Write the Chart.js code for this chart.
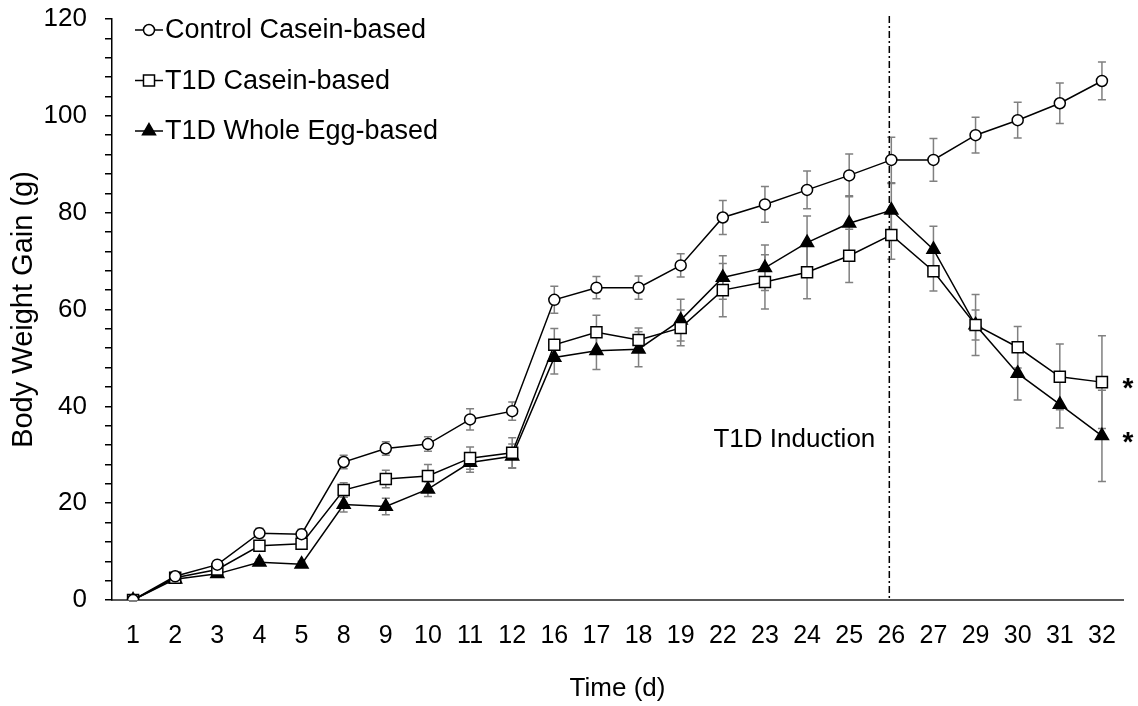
<!DOCTYPE html>
<html>
<head>
<meta charset="utf-8">
<script src="https://cdn.jsdelivr.net/npm/chart.js@4.4.1/dist/chart.umd.min.js"></script>
<style>
  html, body { margin: 0; padding: 0; background: #fff; }
  canvas { display: block; }
</style>
</head>
<body>
<canvas id="weightChart" width="1138" height="706"></canvas>
<script>
// Body weight gain per day
const days = ['1', '2', '3', '4', '5', '8', '9', '10', '11', '12', '16', '17', '18', '19', '22', '23', '24', '25', '26', '27', '29', '30', '31', '32'];

const controlCasein = [0, 4.9, 7.3, 13.8, 13.6, 28.5, 31.3, 32.2, 37.3, 39.0, 62.0, 64.5, 64.5, 69.1, 79.0, 81.7, 84.7, 87.7, 90.9, 90.9, 96.0, 99.1, 102.6, 107.2];
const controlCaseinErr = [0.2, 0.6, 0.7, 1.0, 1.0, 1.4, 1.4, 1.5, 2.2, 1.9, 2.8, 2.3, 2.4, 2.4, 3.5, 3.7, 3.9, 4.4, 4.7, 4.4, 3.7, 3.7, 4.2, 3.9];

const t1dCasein = [0, 4.6, 6.3, 11.2, 11.6, 22.7, 25.0, 25.6, 29.3, 30.4, 52.7, 55.3, 53.7, 56.2, 64.0, 65.7, 67.7, 71.1, 75.4, 67.9, 56.8, 52.2, 46.1, 45.0];
const t1dCaseinErr = [0.2, 0.6, 0.8, 1.0, 1.0, 1.5, 1.8, 2.4, 2.3, 3.1, 3.4, 3.5, 2.5, 3.7, 5.5, 5.6, 5.5, 5.5, 5.0, 4.1, 3.1, 4.3, 6.8, 9.6];

const t1dEgg = [0, 4.3, 5.4, 7.8, 7.4, 19.7, 19.3, 22.9, 28.4, 29.7, 50.1, 51.5, 51.8, 57.8, 66.6, 68.6, 73.8, 77.8, 80.5, 72.4, 56.8, 46.8, 40.4, 33.9];
const t1dEggErr = [0.2, 0.5, 0.6, 0.6, 0.6, 1.5, 1.7, 1.5, 2.0, 2.5, 3.4, 3.9, 3.6, 4.3, 4.5, 4.7, 5.5, 5.7, 5.5, 4.8, 6.3, 5.5, 4.9, 9.4];

const errors = [controlCaseinErr, t1dCaseinErr, t1dEggErr];
const inductionDay = '26';
const starredSeries = [1, 2];

const FONT = "'Liberation Sans', Arial, sans-serif";

// error bars, induction line, legend, labels
const extras = {
    id: 'extras',
    beforeDatasetsDraw(chart) {
        const ctx = chart.ctx;
        const y = chart.scales.y;
        const x = chart.scales.x;
        ctx.save();
        ctx.strokeStyle = '#808080';
        ctx.lineWidth = 1.5;
        chart.data.datasets.forEach((ds, i) => {
            const meta = chart.getDatasetMeta(i);
            meta.data.forEach((pt, j) => {
                const v = ds.data[j];
                const e = errors[i][j];
                const top = y.getPixelForValue(v + e);
                const bot = y.getPixelForValue(v - e);
                ctx.beginPath();
                ctx.moveTo(pt.x, top); ctx.lineTo(pt.x, bot);
                ctx.moveTo(pt.x - 4, top); ctx.lineTo(pt.x + 4, top);
                ctx.moveTo(pt.x - 4, bot); ctx.lineTo(pt.x + 4, bot);
                ctx.stroke();
            });
        });
        // dash-dot line at induction
        const lx = x.getPixelForValue(days.indexOf(inductionDay)) - 2;
        ctx.strokeStyle = '#000';
        ctx.lineWidth = 1.5;
        ctx.setLineDash([7, 3, 2, 3]);
        ctx.beginPath();
        ctx.moveTo(lx, chart.chartArea.top - 3);
        ctx.lineTo(lx, chart.chartArea.bottom);
        ctx.stroke();
        ctx.restore();
    },
    afterDraw(chart) {
        const ctx = chart.ctx;
        const x = chart.scales.x;
        const y = chart.scales.y;
        ctx.save();
        ctx.fillStyle = '#000';
        ctx.font = '26px ' + FONT;
        ctx.textAlign = 'right';
        ctx.textBaseline = 'middle';
        ctx.fillText('T1D Induction', x.getPixelForValue(days.indexOf(inductionDay)) - 16, y.getPixelForValue(33));

        // significance stars
        const last = days.length - 1;
        ctx.font = 'bold 28px ' + FONT;
        ctx.textAlign = 'center';
        ctx.textBaseline = 'alphabetic';
        starredSeries.forEach(i => {
            const pt = chart.getDatasetMeta(i).data[last];
            ctx.fillText('*', pt.x + 26, pt.y + 15);
        });

        // legend
        ctx.font = '27px ' + FONT;
        ctx.textAlign = 'left';
        ctx.textBaseline = 'middle';
        chart.data.datasets.forEach((ds, i) => {
            const ly = 30 + i * 50.5;
            ctx.strokeStyle = '#000';
            ctx.lineWidth = 1.5;
            ctx.beginPath();
            ctx.moveTo(135, ly); ctx.lineTo(163, ly);
            ctx.stroke();
            ctx.fillStyle = ds.pointBackgroundColor;
            ctx.strokeStyle = '#000';
            Chart.helpers.drawPoint(ctx, {
                pointStyle: ds.pointStyle,
                radius: ds.pointRadius,
                rotation: 0,
                borderWidth: 1.5
            }, 149, ly);
            ctx.fillStyle = '#000';
            ctx.fillText(ds.label, 165, ly + 1);
        });
        ctx.restore();
    }
};

new Chart(document.getElementById('weightChart'), {
    type: 'line',
    data: {
        labels: days,
        datasets: [{
            label: 'Control Casein-based',
            data: controlCasein,
            pointStyle: 'circle',
            pointRadius: 5.5,
            pointBackgroundColor: '#fff'
        }, {
            label: 'T1D Casein-based',
            data: t1dCasein,
            pointStyle: 'rect',
            pointRadius: 7.8,
            pointBackgroundColor: '#fff'
        }, {
            label: 'T1D Whole Egg-based',
            data: t1dEgg,
            pointStyle: 'triangle',
            pointRadius: 7.5,
            pointBackgroundColor: '#000'
        }].map(d => Object.assign({
            borderColor: '#000',
            borderWidth: 1.5,
            pointBorderColor: '#000',
            pointBorderWidth: 1.5,
            pointHoverRadius: d.pointRadius,
            tension: 0,
            fill: false
        }, d))
    },
    options: {
        responsive: false,
        animation: false,
        devicePixelRatio: 1,
        layout: { padding: { left: 3, right: 15, top: 19, bottom: 0 } },
        plugins: {
            legend: { display: false },
            tooltip: { enabled: false }
        },
        scales: {
            x: {
                type: 'category',
                offset: true,
                grid: { display: false, drawTicks: false },
                border: { display: true, color: '#595959', width: 2 },
                ticks: {
                    color: '#000',
                    font: { family: FONT, size: 25 },
                    padding: 21,
                    autoSkip: false,
                    maxRotation: 0
                },
                title: {
                    display: true,
                    text: 'Time (d)',
                    color: '#000',
                    font: { family: FONT, size: 26 },
                    padding: { top: 4, bottom: 2 }
                },
                afterFit(scale) { scale.height = 106; }
            },
            y: {
                min: 0,
                max: 120,
                grid: {
                    display: true,
                    drawOnChartArea: false,
                    drawTicks: true,
                    tickLength: 7,
                    color: '#000',
                    lineWidth: 1.5
                },
                border: { display: true, color: '#000', width: 1.5 },
                ticks: {
                    stepSize: 4,
                    autoSkip: false,
                    color: '#000',
                    padding: 18,
                    font: { family: FONT, size: 26 },
                    callback: v => (v % 20 === 0 ? v : '')
                },
                title: {
                    display: true,
                    text: 'Body Weight Gain (g)',
                    color: '#000',
                    font: { family: FONT, size: 29 },
                    padding: { top: 4, bottom: 4 }
                },
                afterFit(scale) {
                    scale.width = 109;
                    scale.paddingTop = 12;
                    scale.paddingBottom = 12;
                }
            }
        }
    },
    plugins: [extras]
});
</script>
</body>
</html>
